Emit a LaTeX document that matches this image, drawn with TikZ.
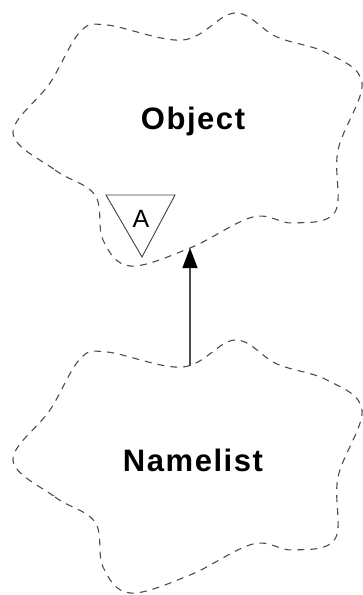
\documentclass[tikz,border=0pt]{standalone}
\usepackage{fontspec}
\setmainfont{Liberation Sans}
\newfontfamily\classfont{Liberation Sans}[LetterSpace=5]
\usetikzlibrary{arrows.meta}

\begin{document}
\begin{tikzpicture}[
      x=1pt, y=-1pt,
      cloudline/.style={draw=black!70, dash pattern=on 7pt off 6pt, line width=1.1pt},
      classname/.style={font=\classfont\bfseries\fontsize{31}{33}\selectfont},
      abstr/.style={draw=black!75, line width=0.9pt, fill=white},
      arr/.style={-{Triangle[length=20pt,width=15pt,black]}, draw=black!70, line width=1.4pt},
      cloud/.pic={
        \path[cloudline] plot[smooth cycle, tension=0.6] coordinates {
          (13,133) (55,170) (95,195) (103,240) (130,266) (190,248) (253,217)
          (293,223) (335,212) (338,150) (362,83) (327,53) (277,37) (235,13)
          (183,40) (107,25) (80,32) (50,83)};
      }
    ]
    \useasboundingbox (0,0) rectangle (363,595);
    % class clouds
    \pic at (0,0) {cloud};
    \pic at (0,327) {cloud};
    \node[classname] (obj) at (193,121) {Object};
    \node[classname] (nml) at (193,460) {Namelist};
    % abstract adornment
    \draw[abstr] (106,195) -- (175,195) -- (142,257) -- cycle;
    \node[font=\fontsize{25}{27}\selectfont] (abstrA) at (141,219) {A};
    % inheritance
    \coordinate (objBot) at (190,248);
    \coordinate (nmlTop) at (190,366);
    \draw[arr] (nmlTop) -- (objBot);
  \end{tikzpicture}
\end{document}
